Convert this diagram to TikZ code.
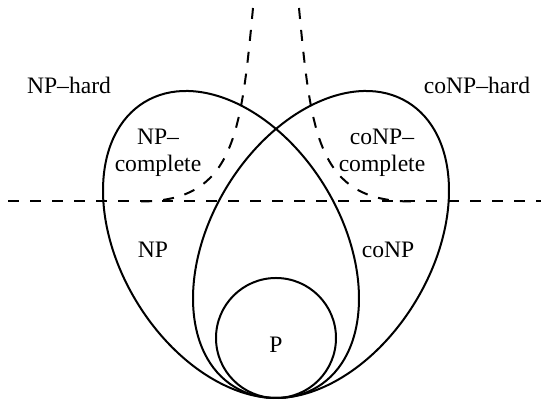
\documentclass[tikz,border=0pt]{standalone}
\usepackage{fontspec}
\setmainfont{Liberation Serif}
\usetikzlibrary{positioning}

\tikzset{
  classline/.style={line width=1pt},
  bound/.style={line width=1pt, dash pattern=on 5.5pt off 5.5pt},
  lbl/.style={font=\fontsize{11.8}{13.5}\selectfont, align=center, inner sep=0pt}
}

\begin{document}
\begin{tikzpicture}[x=0.5pt, y=0.5pt]
    \useasboundingbox (0,0) rectangle (541,400);

    % NP and coNP (tilted ellipses touching at the bottom) and P
    \coordinate (bot) at (276,2);
    \draw[classline] (231,155.5) ellipse [x radius=166.6, y radius=110.4, rotate=121.27];
    \draw[classline] (321,155.5) ellipse [x radius=166.6, y radius=110.4, rotate=58.73];
    \draw[classline] (276,62) circle (60);

    % hardness boundaries
    \coordinate (hl) at (8,198.5);
    \coordinate (hr) at (541,198.5);
    \draw[bound] (hl) -- (hr);
    \draw[bound] (253,392) .. controls (241,265) and (234,198.5) .. (140,198.5);
    \draw[bound] (299,392) .. controls (311,265) and (318,198.5) .. (412,198.5);

    % labels
    \node[lbl] (nphard) at (69,315) {NP--hard};
    \node[lbl] (conphard) at (477,315) {coNP--hard};
    \node[lbl] (npc) at (158,247) {NP--\\complete};
    \node[lbl] (conpc) at (382,247) {coNP--\\complete};
    \node[lbl] (np) at (153,150) {NP};
    \node[lbl] (conp) at (388,150) {coNP};
    \node[lbl] (p) at (276,55) {P};
\end{tikzpicture}
\end{document}
